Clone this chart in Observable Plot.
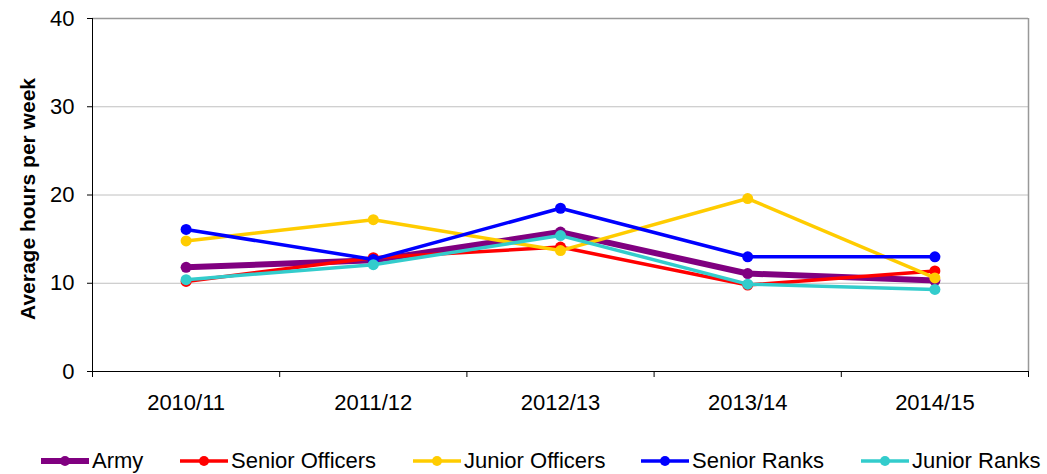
<!DOCTYPE html>
<html>
<head>
<meta charset="utf-8">
<script src="https://cdn.jsdelivr.net/npm/d3@7"></script>
<script src="https://cdn.jsdelivr.net/npm/@observablehq/plot@0.6"></script>
<style>
  html, body { margin: 0; padding: 0; background: #fff; }
  #wrap { position: relative; width: 1047px; height: 474px; font-family: "Liberation Sans", Arial, sans-serif; }
  #legend { position: absolute; left: 0; top: 447px; width: 1047px; height: 28px; }
  .item { position: absolute; top: 0; height: 28px; display: flex; align-items: center; font-size: 22px; color: #000; white-space: nowrap; }
  .item svg { margin-right: 3px; }
</style>
</head>
<body>
<div id="wrap"><div id="chart"></div><div id="legend"></div></div>
<script>
const years = ["2010/11", "2011/12", "2012/13", "2013/14", "2014/15"];
const seriesNames = ["Army", "Senior Officers", "Junior Officers", "Senior Ranks", "Junior Ranks"];
const army = [11.8, 12.6, 15.8, 11.1, 10.3];
const seniorOfficers = [10.2, 12.9, 14.1, 9.8, 11.4];
const juniorOfficers = [14.8, 17.2, 13.7, 19.6, 10.6];
const seniorRanks = [16.1, 12.7, 18.5, 13.0, 13.0];
const juniorRanks = [10.4, 12.1, 15.4, 9.9, 9.3];
const yTicks = [0, 10, 20, 30, 40];

const colors = ["#800080", "#FF0000", "#FFCC00", "#0000FF", "#33CCCC"];
const widths = [6, 3.5, 3.5, 3.5, 3.5];
const allValues = [army, seniorOfficers, juniorOfficers, seniorRanks, juniorRanks];

const data = seriesNames.flatMap((s, k) => years.map((y, i) => ({series: s, year: y, idx: i, value: allValues[k][i]})));
const font = "Liberation Sans, Arial, sans-serif";

const lineMarks = seriesNames.flatMap((s, k) => {
  const d = data.filter(r => r.series === s);
  return [
    Plot.line(d, {x: "idx", y: "value", stroke: colors[k], strokeWidth: widths[k], strokeLinejoin: "round"}),
    Plot.dot(d, {x: "idx", y: "value", fill: colors[k], r: 5.5, stroke: "none"})
  ];
});

const chart = Plot.plot({
  width: 1047,
  height: 420,
  marginLeft: 92,
  marginRight: 19,
  marginTop: 18,
  marginBottom: 49,
  style: {fontFamily: font, background: "#fff"},
  x: {type: "linear", domain: [-0.5, years.length - 0.5], axis: null},
  y: {domain: [0, 40], axis: null},
  marks: [
    Plot.ruleY([10, 20, 30], {stroke: "#c0c0c0", strokeWidth: 1}),
    Plot.ruleY([40], {stroke: "#999", strokeWidth: 1.5}),
    Plot.ruleX([years.length - 0.5], {stroke: "#999", strokeWidth: 1.5}),
    Plot.ruleX([-0.5], {stroke: "#000", strokeWidth: 1}),
    Plot.ruleY([0], {stroke: "#000", strokeWidth: 1}),
    Plot.axisY({ticks: yTicks, tickSize: 5, tickPadding: 13, fontSize: 22, label: null, tickFormat: d => d, color: "#000"}),
    Plot.axisX({ticks: d3.range(years.length + 1).map(i => i - 0.5), tickSize: 6, tickFormat: () => "", label: null, color: "#000"}),
    Plot.axisX({ticks: d3.range(years.length), tickSize: 0, tickPadding: 23, tickFormat: i => years[i], fontSize: 22, label: null, color: "#000"}),
    Plot.text(["Average hours per week"], {frameAnchor: "left", textAnchor: "middle", rotate: -90, dx: -64, dy: 4, fontWeight: "bold", fontSize: 21, fill: "#000"}),
    ...lineMarks
  ]
});
document.getElementById("chart").appendChild(chart);

const legendLeft = [41, 180, 413, 641, 861];
const legend = document.getElementById("legend");
seriesNames.forEach((s, k) => {
  const div = document.createElement("div");
  div.className = "item";
  div.style.left = legendLeft[k] + "px";
  div.innerHTML = `<svg width="48" height="14"><line x1="0" y1="7" x2="48" y2="7" stroke="${colors[k]}" stroke-width="${widths[k]}"/><circle cx="24" cy="7" r="5" fill="${colors[k]}"/></svg><span>${s}</span>`;
  legend.appendChild(div);
});
</script>
</body>
</html>
